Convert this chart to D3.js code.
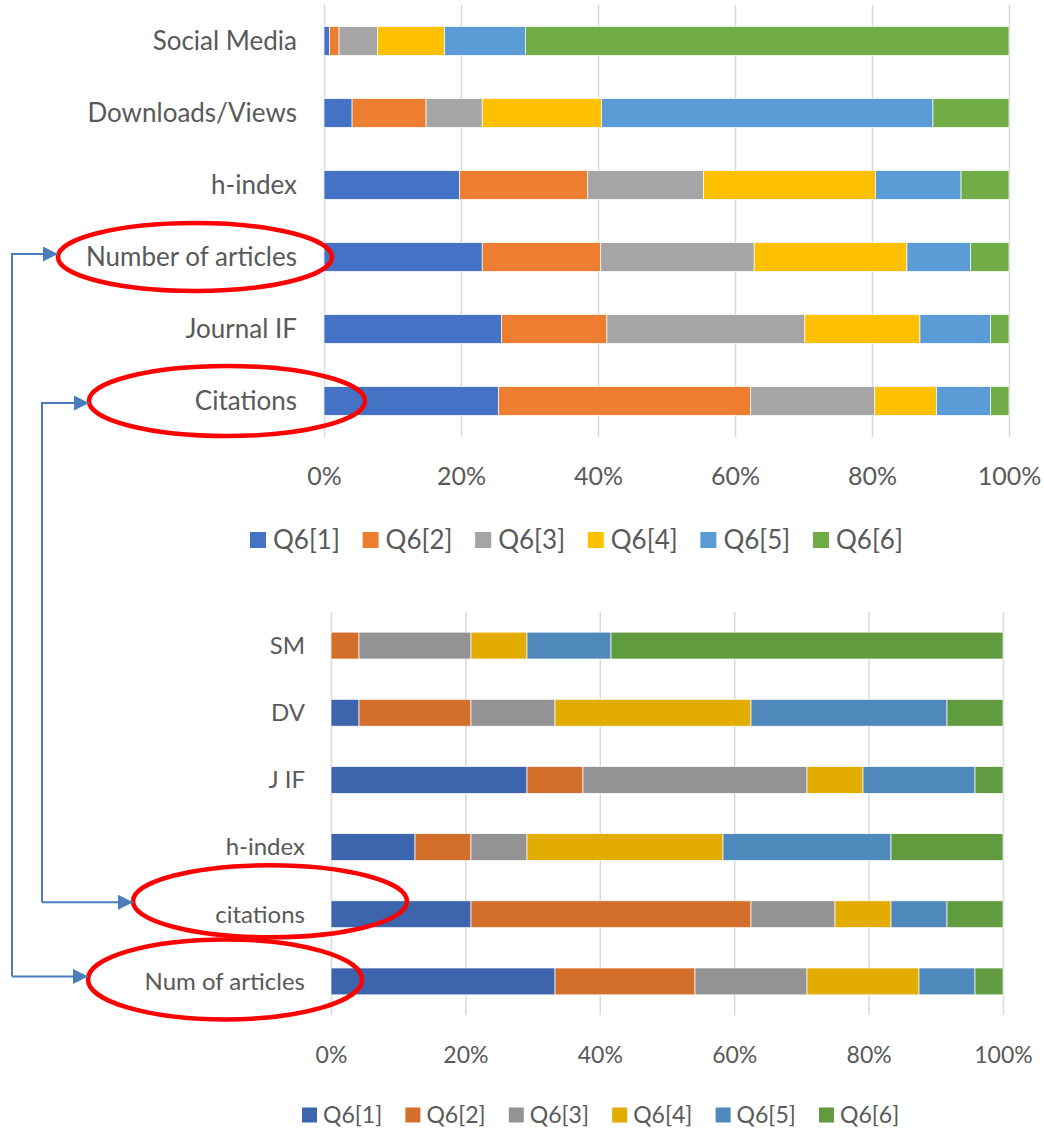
<!DOCTYPE html>
<html>
<head>
<meta charset="utf-8">
<script src="https://cdn.jsdelivr.net/npm/d3@7"></script>
<style>
  html, body { margin: 0; padding: 0; background: #fff; }
  svg { display: block; }
  text { font-family: Lato, "Open Sans", sans-serif; fill: #595959; }
</style>
</head>
<body>
<svg id="chart" width="1044" height="1130"></svg>
<script>
// Survey answers Q6[1]..Q6[6] per metric (percent of respondents)
const topCategories = ["Social Media", "Downloads/Views", "h-index", "Number of articles", "Journal IF", "Citations"];
const topQ1 = [0.8, 4.1, 19.8, 23.1, 25.9, 25.5];
const topQ2 = [1.4, 10.8, 18.7, 17.3, 15.4, 36.8];
const topQ3 = [5.6, 8.2, 16.9, 22.4, 28.9, 18.1];
const topQ4 = [9.8, 17.4, 25.1, 22.3, 16.8, 9.0];
const topQ5 = [11.8, 48.4, 12.5, 9.3, 10.3, 7.9];
const topQ6 = [70.6, 11.1, 7.0, 5.6, 2.7, 2.7];

// Second group of respondents (counts out of 24)
const botCategories = ["SM", "DV", "J IF", "h-index", "citations", "Num of articles"];
const botQ1 = [0, 1, 7, 3, 5, 8];
const botQ2 = [1, 4, 2, 2, 10, 5];
const botQ3 = [4, 3, 8, 2, 3, 4];
const botQ4 = [2, 7, 2, 7, 2, 4];
const botQ5 = [3, 7, 4, 6, 2, 2];
const botQ6 = [14, 2, 1, 4, 2, 1];

const seriesNames = ["Q6[1]", "Q6[2]", "Q6[3]", "Q6[4]", "Q6[5]", "Q6[6]"];
const tickValues = [0, 0.2, 0.4, 0.6, 0.8, 1.0];

const topColors = ["#4472C4", "#ED7D31", "#A5A5A5", "#FFC000", "#5B9BD5", "#70AD47"];
const botColors = ["#3D65AE", "#D46F2B", "#939393", "#E2AC00", "#4F89BC", "#629A3F"];

const svg = d3.select("#chart");

function toRows(cats, cols) {
  return cats.map((c, i) => {
    const row = { cat: c };
    seriesNames.forEach((s, j) => { row[s] = cols[j][i]; });
    return row;
  });
}

function drawChart(opts) {
  const g = svg.append("g");
  const rows = toRows(opts.categories, opts.cols);
  const x = d3.scaleLinear().domain([0, 1]).range([opts.x0, opts.x1]);
  const y = d3.scaleBand().domain(opts.categories).range([opts.y0, opts.y1]).paddingInner(opts.pad).paddingOuter(opts.pad / 2);

  // vertical gridlines
  g.append("g")
    .attr("transform", `translate(0,${opts.y1})`)
    .call(d3.axisBottom(x).tickValues(tickValues).tickSize(-(opts.y1 - opts.y0)).tickFormat(""))
    .call(a => a.select(".domain").remove())
    .call(a => a.selectAll("line").attr("stroke", "#d9d9d9").attr("stroke-width", 1.5));

  const stack = d3.stack().keys(seriesNames).offset(d3.stackOffsetExpand);
  const layers = stack(rows);

  g.selectAll("g.layer").data(layers).join("g")
    .attr("class", "layer")
    .attr("fill", (d, i) => opts.colors[i])
    .selectAll("rect").data(d => d).join("rect")
    .attr("x", d => x(d[0]))
    .attr("width", d => Math.max(0, x(d[1]) - x(d[0])))
    .attr("y", d => y(d.data.cat))
    .attr("height", y.bandwidth())
    .attr("stroke", "#ffffff")
    .attr("stroke-width", 0.7);

  // category labels
  g.selectAll("text.cat").data(opts.categories).join("text")
    .attr("class", "cat")
    .attr("x", opts.labelX)
    .attr("y", d => y(d) + y.bandwidth() / 2)
    .attr("dy", "0.35em")
    .attr("text-anchor", "end")
    .style("font-size", opts.catFont + "px")
    .text(d => d);

  // percentage axis
  g.append("g")
    .attr("transform", `translate(0,${opts.y1})`)
    .call(d3.axisBottom(x).tickValues(tickValues).tickSize(0).tickPadding(opts.tickPad).tickFormat(d3.format(".0%")))
    .call(a => a.select(".domain").remove())
    .call(a => a.selectAll("text").style("font-size", opts.tickFont + "px").attr("fill", "#595959")
      .style("font-family", "Lato, 'Open Sans', sans-serif"));

  // legend
  const sq = opts.legSquare;
  const leg = g.append("g").attr("transform", `translate(${opts.legX},${opts.legY})`);
  const items = leg.selectAll("g").data(seriesNames).join("g")
    .attr("transform", (d, i) => `translate(${i * opts.legStep},0)`);
  items.append("rect").attr("x", 0).attr("y", -sq / 2).attr("width", sq).attr("height", sq)
    .attr("fill", (d, i) => opts.colors[i]);
  items.append("text").attr("x", sq + opts.legGap).attr("y", 0).attr("dy", "0.36em")
    .style("font-size", opts.legFont + "px").text(d => d);

  return { x, y };
}

const topChart = drawChart({
  categories: topCategories,
  cols: [topQ1, topQ2, topQ3, topQ4, topQ5, topQ6],
  colors: topColors,
  x0: 324, x1: 1009, y0: 5, y1: 437, pad: 0.6,
  labelX: 297, catFont: 26, tickFont: 25, tickPad: 30,
  legX: 250, legY: 540, legStep: 112.6, legGap: 7, legFont: 26, legSquare: 16
});

const botChart = drawChart({
  categories: botCategories,
  cols: [botQ1, botQ2, botQ3, botQ4, botQ5, botQ6],
  colors: botColors,
  x0: 331, x1: 1003, y0: 612, y1: 1015, pad: 0.6,
  labelX: 305, catFont: 24, tickFont: 23, tickPad: 32,
  legX: 302, legY: 1115, legStep: 103.4, legGap: 6, legFont: 23, legSquare: 15
});

// Annotation layer: circled labels and connectors between the two charts
const ann = svg.append("g");
function mid(s, c) { return s.y(c) + s.y.bandwidth() / 2; }

const ellipses = [
  { cx: 195, cy: mid(topChart, "Number of articles"), rx: 137, ry: 34 },
  { cx: 227, cy: mid(topChart, "Citations"), rx: 138, ry: 35 },
  { cx: 270, cy: mid(botChart, "citations") - 13, rx: 137, ry: 36 },
  { cx: 225, cy: mid(botChart, "Num of articles") - 2, rx: 137, ry: 40 }
];
ann.selectAll("ellipse").data(ellipses).join("ellipse")
  .attr("cx", d => d.cx).attr("cy", d => d.cy).attr("rx", d => d.rx).attr("ry", d => d.ry)
  .attr("fill", "none").attr("stroke", "#FF0000").attr("stroke-width", 4.5);

const arrowColor = "#4A7EBB";
svg.append("defs").append("marker")
  .attr("id", "tri").attr("viewBox", "0 0 10 10").attr("refX", 10).attr("refY", 5)
  .attr("markerWidth", 7.5).attr("markerHeight", 7.5).attr("markerUnits", "strokeWidth")
  .attr("orient", "auto")
  .append("path").attr("d", "M0,0 L10,5 L0,10 Z").attr("fill", arrowColor);

const connectors = [
  // Number of articles <-> Num of articles
  [[88, mid(botChart, "Num of articles") - 5], [12, mid(botChart, "Num of articles") - 5], [12, mid(topChart, "Number of articles") - 3], [58, mid(topChart, "Number of articles") - 3]],
  // Citations <-> citations
  [[133, mid(botChart, "citations") - 12], [42, mid(botChart, "citations") - 12], [42, mid(topChart, "Citations") + 2], [89, mid(topChart, "Citations") + 2]]
];
connectors.forEach(pts => {
  const line = d3.line();
  ann.append("path").attr("d", line(pts.slice(1, 4))).attr("fill", "none")
    .attr("stroke", arrowColor).attr("stroke-width", 2).attr("marker-end", "url(#tri)");
  ann.append("path").attr("d", line([pts[1], pts[0]])).attr("fill", "none")
    .attr("stroke", arrowColor).attr("stroke-width", 2).attr("marker-end", "url(#tri)");
});
</script>
</body>
</html>
